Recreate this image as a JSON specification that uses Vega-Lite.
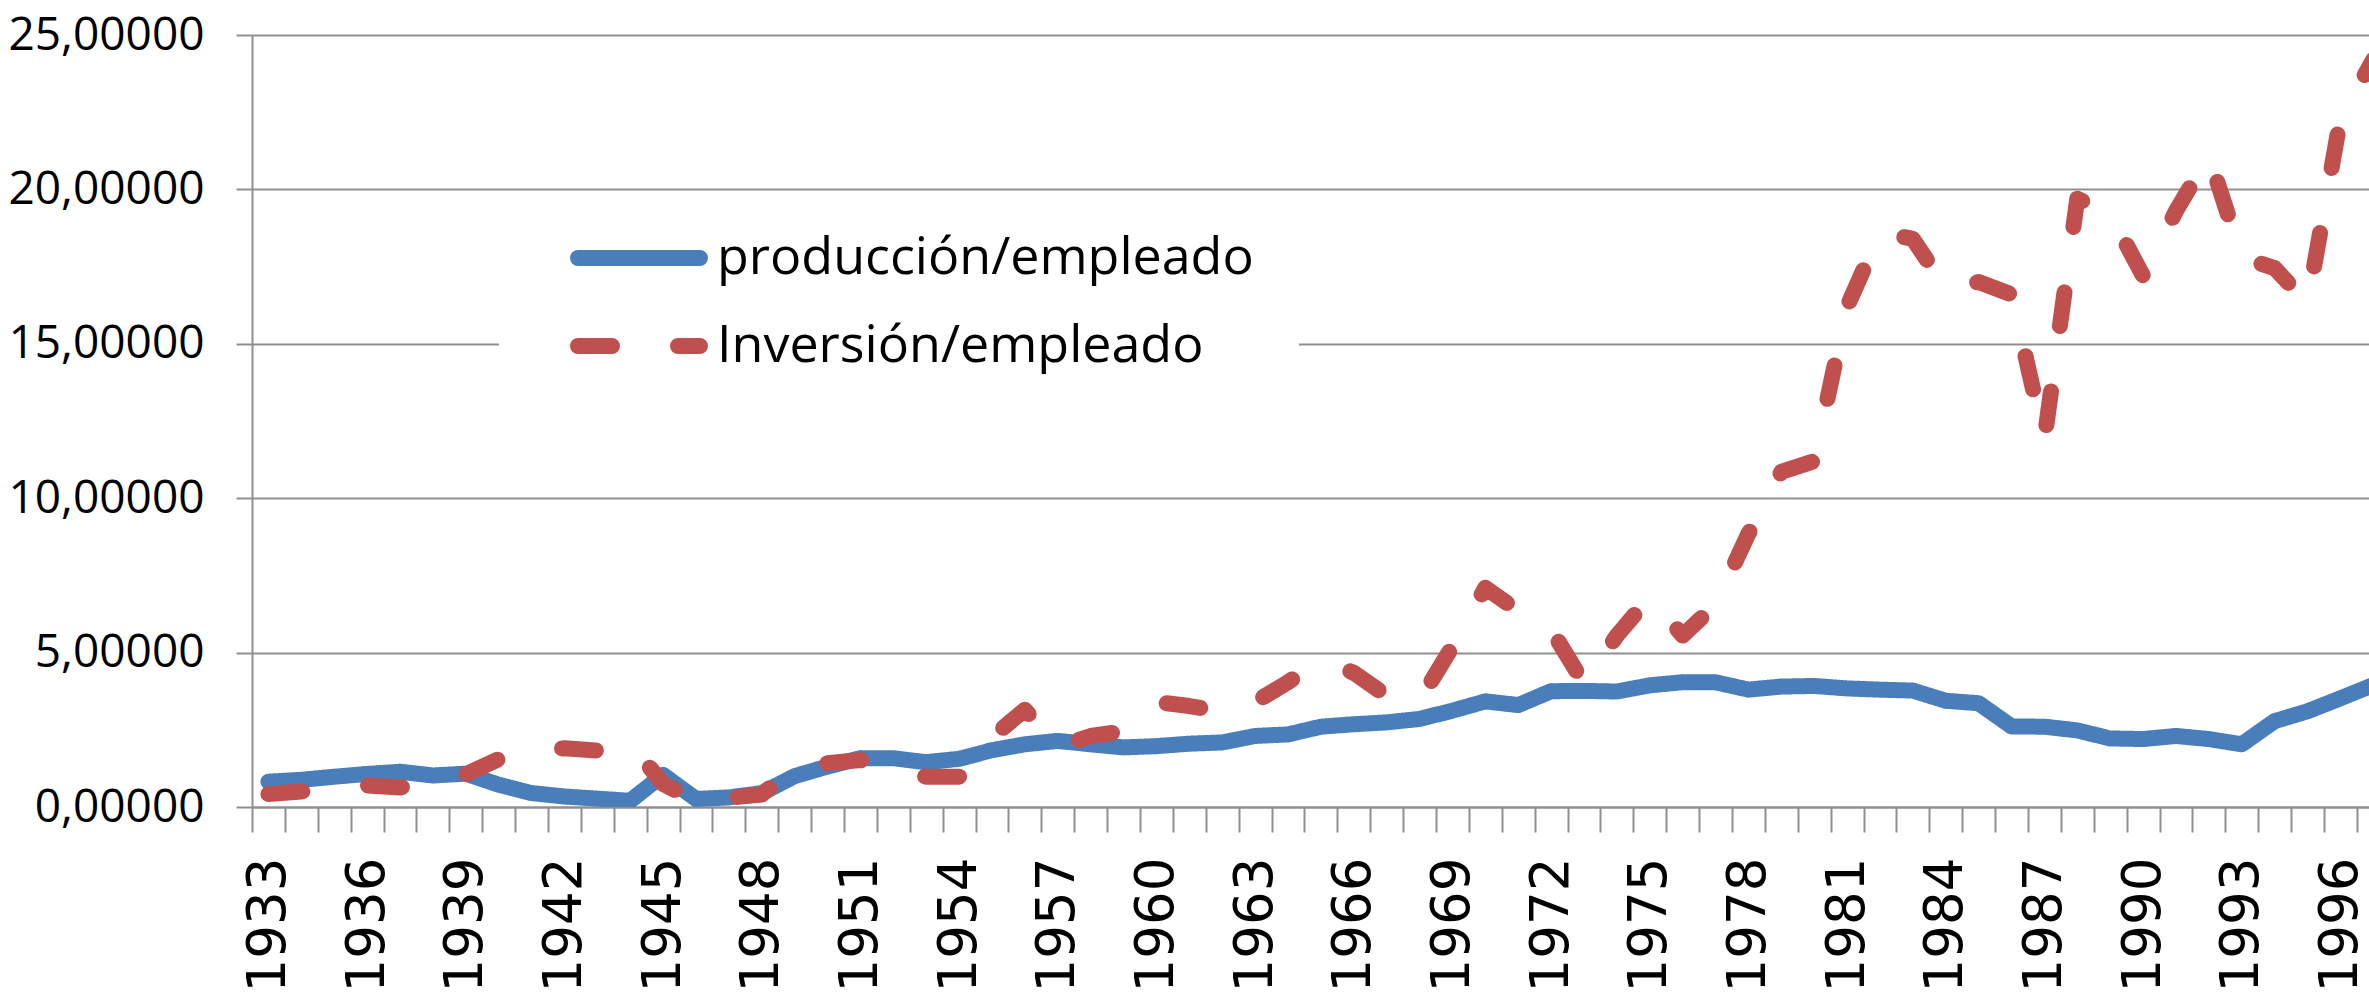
{
  "$schema": "https://vega.github.io/schema/vega-lite/v6.json",
  "width": 2117,
  "height": 772,
  "autosize": {"type": "none"},
  "padding": {"left": 252, "top": 35, "right": 0, "bottom": 191},
  "background": "white",
  "config": {"view": {"stroke": null}},
  "data": {"values": [
    {"year": 1933, "producción/empleado": 0.82, "Inversión/empleado": 0.42},
    {"year": 1934, "producción/empleado": 0.88, "Inversión/empleado": 0.5},
    {"year": 1935, "producción/empleado": 0.98, "Inversión/empleado": 0.65},
    {"year": 1936, "producción/empleado": 1.07, "Inversión/empleado": 0.7},
    {"year": 1937, "producción/empleado": 1.14, "Inversión/empleado": 0.63},
    {"year": 1938, "producción/empleado": 1.02, "Inversión/empleado": 0.85},
    {"year": 1939, "producción/empleado": 1.08, "Inversión/empleado": 1.06},
    {"year": 1940, "producción/empleado": 0.72, "Inversión/empleado": 1.55},
    {"year": 1941, "producción/empleado": 0.45, "Inversión/empleado": 1.85},
    {"year": 1942, "producción/empleado": 0.34, "Inversión/empleado": 1.9},
    {"year": 1943, "producción/empleado": 0.27, "Inversión/empleado": 1.83},
    {"year": 1944, "producción/empleado": 0.2, "Inversión/empleado": 2.05},
    {"year": 1945, "producción/empleado": 1.04, "Inversión/empleado": 0.75},
    {"year": 1946, "producción/empleado": 0.26, "Inversión/empleado": 0.2},
    {"year": 1947, "producción/empleado": 0.31, "Inversión/empleado": 0.3},
    {"year": 1948, "producción/empleado": 0.45, "Inversión/empleado": 0.4},
    {"year": 1949, "producción/empleado": 1.0, "Inversión/empleado": 1.3},
    {"year": 1950, "producción/empleado": 1.31, "Inversión/empleado": 1.42},
    {"year": 1951, "producción/empleado": 1.58, "Inversión/empleado": 1.52},
    {"year": 1952, "producción/empleado": 1.58, "Inversión/empleado": 1.2},
    {"year": 1953, "producción/empleado": 1.45, "Inversión/empleado": 0.98},
    {"year": 1954, "producción/empleado": 1.56, "Inversión/empleado": 0.98},
    {"year": 1955, "producción/empleado": 1.84, "Inversión/empleado": 2.26},
    {"year": 1956, "producción/empleado": 2.03, "Inversión/empleado": 3.15},
    {"year": 1957, "producción/empleado": 2.14, "Inversión/empleado": 1.95},
    {"year": 1958, "producción/empleado": 2.03, "Inversión/empleado": 2.3},
    {"year": 1959, "producción/empleado": 1.93, "Inversión/empleado": 2.45},
    {"year": 1960, "producción/empleado": 1.97, "Inversión/empleado": 3.4},
    {"year": 1961, "producción/empleado": 2.05, "Inversión/empleado": 3.27},
    {"year": 1962, "producción/empleado": 2.09, "Inversión/empleado": 3.08},
    {"year": 1963, "producción/empleado": 2.3, "Inversión/empleado": 3.4},
    {"year": 1964, "producción/empleado": 2.35, "Inversión/empleado": 4.04},
    {"year": 1965, "producción/empleado": 2.6, "Inversión/empleado": 4.75},
    {"year": 1966, "producción/empleado": 2.68, "Inversión/empleado": 4.35},
    {"year": 1967, "producción/empleado": 2.74, "Inversión/empleado": 3.6},
    {"year": 1968, "producción/empleado": 2.85, "Inversión/empleado": 3.45},
    {"year": 1969, "producción/empleado": 3.12, "Inversión/empleado": 5.2},
    {"year": 1970, "producción/empleado": 3.42, "Inversión/empleado": 7.1},
    {"year": 1971, "producción/empleado": 3.3, "Inversión/empleado": 6.35},
    {"year": 1972, "producción/empleado": 3.75, "Inversión/empleado": 5.75},
    {"year": 1973, "producción/empleado": 3.76, "Inversión/empleado": 4.0},
    {"year": 1974, "producción/empleado": 3.74, "Inversión/empleado": 5.55},
    {"year": 1975, "producción/empleado": 3.94, "Inversión/empleado": 6.8},
    {"year": 1976, "producción/empleado": 4.04, "Inversión/empleado": 5.55},
    {"year": 1977, "producción/empleado": 4.04, "Inversión/empleado": 6.55},
    {"year": 1978, "producción/empleado": 3.8, "Inversión/empleado": 8.85},
    {"year": 1979, "producción/empleado": 3.9, "Inversión/empleado": 10.85},
    {"year": 1980, "producción/empleado": 3.92, "Inversión/empleado": 11.2},
    {"year": 1981, "producción/empleado": 3.84, "Inversión/empleado": 16.2},
    {"year": 1982, "producción/empleado": 3.8, "Inversión/empleado": 18.6},
    {"year": 1983, "producción/empleado": 3.77, "Inversión/empleado": 18.4},
    {"year": 1984, "producción/empleado": 3.44, "Inversión/empleado": 16.8},
    {"year": 1985, "producción/empleado": 3.36, "Inversión/empleado": 17.0},
    {"year": 1986, "producción/empleado": 2.61, "Inversión/empleado": 16.6},
    {"year": 1987, "producción/empleado": 2.6, "Inversión/empleado": 11.9},
    {"year": 1988, "producción/empleado": 2.48, "Inversión/empleado": 19.7},
    {"year": 1989, "producción/empleado": 2.22, "Inversión/empleado": 19.2},
    {"year": 1990, "producción/empleado": 2.2, "Inversión/empleado": 17.2},
    {"year": 1991, "producción/empleado": 2.3, "Inversión/empleado": 19.3},
    {"year": 1992, "producción/empleado": 2.2, "Inversión/empleado": 21.1},
    {"year": 1993, "producción/empleado": 2.03, "Inversión/empleado": 17.8},
    {"year": 1994, "producción/empleado": 2.78, "Inversión/empleado": 17.45},
    {"year": 1995, "producción/empleado": 3.1, "Inversión/empleado": 16.3},
    {"year": 1996, "producción/empleado": 3.52, "Inversión/empleado": 22.3},
    {"year": 1997, "producción/empleado": 3.95, "Inversión/empleado": 24.2}
  ]},
  "transform": [
    {"fold": ["producción/empleado", "Inversión/empleado"], "as": ["serie", "value"]}
  ],
  "mark": {"type": "line", "clip": true, "strokeWidth": 16, "strokeCap": "round", "strokeJoin": "round"},
  "encoding": {
    "x": {
      "field": "year", "type": "quantitative",
      "scale": {"domain": [1932.5, 1996.87], "nice": false, "zero": false},
      "axis": {
        "title": null,
        "values": [1932.5,1933.5,1934.5,1935.5,1936.5,1937.5,1938.5,1939.5,1940.5,1941.5,1942.5,1943.5,1944.5,1945.5,1946.5,1947.5,1948.5,1949.5,1950.5,1951.5,1952.5,1953.5,1954.5,1955.5,1956.5,1957.5,1958.5,1959.5,1960.5,1961.5,1962.5,1963.5,1964.5,1965.5,1966.5,1967.5,1968.5,1969.5,1970.5,1971.5,1972.5,1973.5,1974.5,1975.5,1976.5,1977.5,1978.5,1979.5,1980.5,1981.5,1982.5,1983.5,1984.5,1985.5,1986.5,1987.5,1988.5,1989.5,1990.5,1991.5,1992.5,1993.5,1994.5,1995.5,1996.5],
        "grid": false,
        "domain": true, "domainColor": "#8f8f8f", "domainWidth": 2,
        "ticks": true, "tickSize": 25, "tickColor": "#8f8f8f", "tickWidth": 2,
        "labelAngle": 270,
        "labelExpr": "(datum.value + 0.5 - 1933) % 3 === 0 ? '' + (datum.value + 0.5) : ''",
        "labelOffset": 16.45,
        "labelPadding": 25,
        "labelFont": "DejaVu Sans", "labelFontSize": 53, "labelColor": "black",
        "labelOverlap": false, "labelFlush": false, "labelBound": false, "labelLimit": 1000
      }
    },
    "y": {
      "field": "value", "type": "quantitative",
      "scale": {"domain": [0, 25], "nice": false},
      "axis": {
        "title": null,
        "values": [0, 5, 10, 15, 20, 25],
        "grid": true, "gridColor": "#8f8f8f", "gridWidth": 2,
        "domain": true, "domainColor": "#8f8f8f", "domainWidth": 2,
        "tickSize": 16, "tickColor": "#8f8f8f", "tickWidth": 2,
        "labelPadding": 32, "labelLimit": 1000,
        "labelFont": "Open Sans", "labelFontSize": 46, "labelColor": "black",
        "labelExpr": "replace(format(datum.value, '.5f'), '.', ',')"
      }
    },
    "color": {
      "field": "serie", "type": "nominal", "title": null,
      "scale": {"domain": ["producción/empleado", "Inversión/empleado"], "range": ["#4A7EBB", "#C0504D"]},
      "legend": {
        "orient": "none", "legendX": 247, "legendY": 158,
        "direction": "vertical",
        "symbolType": "stroke", "symbolSize": 14884, "symbolStrokeWidth": 16,
        "symbolOffset": 26, "labelOffset": 9,
        "labelFont": "Open Sans", "labelFontSize": 52, "labelColor": "black", "labelLimit": 2000,
        "fillColor": "white", "padding": 45, "clipHeight": 40, "rowPadding": 36,
        "encode": {"symbols": {"update": {"strokeCap": {"value": "round"}}}}
      }
    },
    "strokeDash": {
      "field": "serie", "type": "nominal", "title": null,
      "scale": {"domain": ["producción/empleado", "Inversión/empleado"], "range": [[1, 0], [34, 66]]}
    }
  }
}
